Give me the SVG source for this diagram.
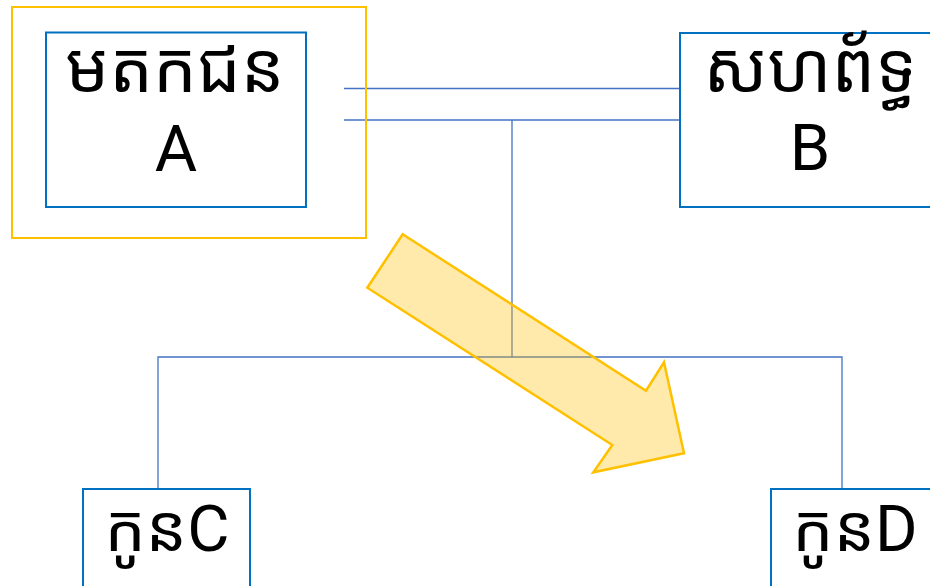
<svg xmlns="http://www.w3.org/2000/svg" width="930" height="586" viewBox="0 0 930 586">
<style>
.box{fill:#fff;stroke:#0070C0;stroke-width:2}
.t{font-family:Roboto,'Noto Sans Khmer','Noto Sans',sans-serif;fill:#000;text-anchor:middle}
.k{font-size:69px}
.l{font-size:65px}
.c{font-size:65px}
.conn{fill:none;stroke:#4472C4;stroke-width:1.3}
</style>
<rect width="930" height="586" fill="#fff"/>
<g id="connectors">
<line class="conn" x1="344" y1="88.5" x2="680" y2="88.5"/>
<line class="conn" x1="344" y1="120" x2="680" y2="120"/>
<polyline class="conn" points="512,120 512,357"/>
<polyline class="conn" points="158,489 158,357 842,357 842,489"/>
</g>
<g id="nodeA">
<rect x="12" y="7" width="354" height="231" fill="none" stroke="#FFC000" stroke-width="2"/>
<rect class="box" x="46" y="32.5" width="260" height="174.5"/>
<text class="t k" x="175" y="92">មតកជន</text>
<text class="t l" x="176" y="171">A</text>
</g>
<g id="nodeB">
<rect class="box" x="680" y="33" width="270" height="174"/>
<text class="t k" x="810" y="92">សហព័ទ្ធ</text>
<text class="t l" x="810" y="170">B</text>
</g>
<g id="nodeC">
<rect class="box" x="83" y="489" width="167" height="110"/>
<text class="t c" x="167" y="551">កូនC</text>
</g>
<g id="nodeD">
<rect class="box" x="771" y="489" width="170" height="110"/>
<text class="t c" x="855" y="551">កូនD</text>
</g>
<g id="arrow">
<polygon points="402.7,234.3 646,390.7 664,362.3 684,453.3 593.3,472.3 612.3,445 367.3,287.7" fill="#FFC000" fill-opacity="0.33" stroke="#FFC000" stroke-width="2.5" stroke-linejoin="miter"/>
</g>
</svg>
